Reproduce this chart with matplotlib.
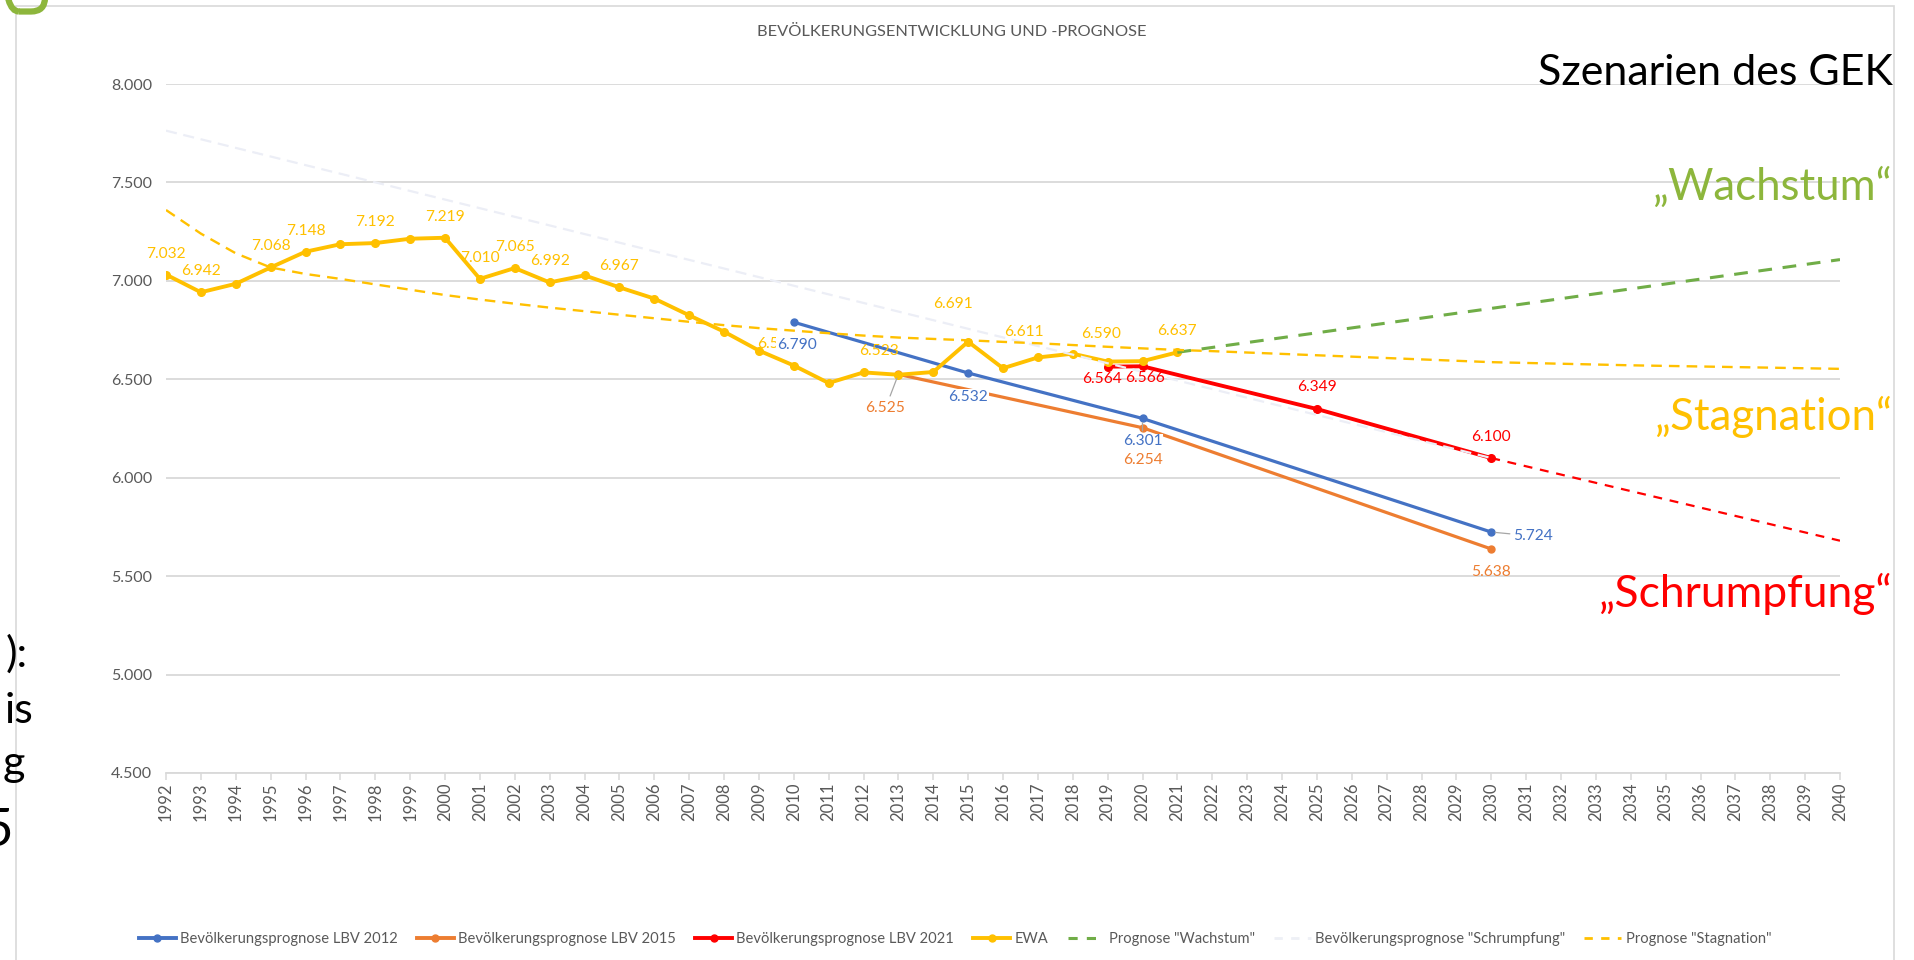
import matplotlib
matplotlib.use("Agg")
import matplotlib.pyplot as plt
from matplotlib.lines import Line2D
from matplotlib.patches import Rectangle, FancyBboxPatch
from matplotlib.transforms import IdentityTransform
from matplotlib.ticker import FuncFormatter

plt.rcParams['font.family'] = ['Lato', 'DejaVu Sans']

# Data (Einwohner)
axis_years = list(range(1992, 2041))

ewa_years = list(range(1992, 2022))
ewa_vals = [7032, 6942, 6985, 7068, 7148, 7186, 7192, 7214, 7219, 7010,
            7065, 6992, 7028, 6967, 6910, 6825, 6742, 6646, 6570, 6481,
            6535, 6523, 6537, 6691, 6556, 6611, 6630, 6590, 6592, 6637]
ewa_labeled = [1992, 1993, 1995, 1996, 1998, 2000, 2001, 2002, 2003, 2005,
               2010, 2013, 2015, 2017, 2019, 2021]

lbv12_years = [2010, 2015, 2020, 2030]
lbv12_vals = [6790, 6532, 6301, 5724]

lbv15_years = [2013, 2020, 2030]
lbv15_vals = [6525, 6254, 5638]

lbv21_years = [2019, 2020, 2025, 2030]
lbv21_vals = [6564, 6566, 6349, 6100]

wachstum_years = [2021, 2040]
wachstum_vals = [6637, 7108]

schrumpf_years = [1992, 2030, 2040]
schrumpf_vals = [7763, 6100, 5680]

stagnation_years = list(range(1992, 2041))
stagnation_vals = [7360, 7240, 7140, 7068, 7035, 7010, 6982, 6955, 6928, 6905,
                   6884, 6864, 6846, 6828, 6810, 6792, 6775, 6760, 6747, 6734,
                   6722, 6712, 6705, 6698, 6690, 6683, 6674, 6665, 6657, 6649,
                   6643, 6636, 6629, 6622, 6615, 6608, 6601, 6594, 6587, 6583,
                   6579, 6575, 6571, 6568, 6565, 6562, 6559, 6556, 6553]

legend_labels = ['Bevölkerungsprognose LBV 2012', 'Bevölkerungsprognose LBV 2015',
                 'Bevölkerungsprognose LBV 2021', 'EWA', 'Prognose "Wachstum"',
                 'Bevölkerungsprognose "Schrumpfung"', 'Prognose "Stagnation"']

# Colors
BLUE = '#4472C4'
ORANGE = '#ED7D31'
RED = '#FF0000'
GOLD = '#FFC000'
GREEN = '#70AD47'
FAINT = '#ECEEF6'
GREY = '#595959'
GRID = '#D9D9D9'

W, H = 1914, 960


def fx(x):
    return x / W


def fy(y):
    return 1 - y / H


def fmt(v):
    return f"{v:,}".replace(',', '.')


fig = plt.figure(figsize=(W / 100, H / 100), dpi=100)
ax = fig.add_axes([fx(166), fy(773), fx(1840) - fx(166), fy(84) - fy(773)])

# Series (Excel order -> z order)
ax.plot(lbv12_years, lbv12_vals, color=BLUE, lw=2.3, marker='o', ms=5, zorder=3)
ax.plot(lbv15_years, lbv15_vals, color=ORANGE, lw=2.3, marker='o', ms=5, zorder=3)
ax.plot(lbv21_years, lbv21_vals, color=RED, lw=2.8, marker='o', ms=5.5, zorder=4)
ax.plot(ewa_years, ewa_vals, color=GOLD, lw=2.8, marker='o', ms=5.5, zorder=5)
ax.plot(wachstum_years, wachstum_vals, color=GREEN, lw=2.2, dashes=(4.5, 3.5), zorder=6)
ax.plot(schrumpf_years[:2], schrumpf_vals[:2], color=FAINT, lw=1.6, dashes=(5, 3), zorder=7)
ax.plot(schrumpf_years[1:], schrumpf_vals[1:], color=RED, lw=1.6, dashes=(4, 3.5), zorder=7)
ax.plot(stagnation_years, stagnation_vals, color=GOLD, lw=1.7, dashes=(4.5, 3), zorder=8)


def label(x, y, color, dx, dy, box=False, leader=False):
    # dx, dy in pixels (dy > 0 means above the point)
    kw = {}
    if box:
        kw['bbox'] = dict(boxstyle='square,pad=0.05', fc='white', ec='none')
    if leader:
        kw['arrowprops'] = dict(arrowstyle='-', color='#A6A6A6', lw=0.9,
                                shrinkA=2, shrinkB=3)
    ax.annotate(fmt(y), (x, y), xytext=(dx * 0.72, dy * 0.72),
                textcoords='offset points', ha='center', va='center',
                color=color, fontsize=11.2, zorder=10, **kw)


ewa_offsets = {2010: (-17, 22), 2013: (-19, 24), 2015: (-15, 38),
               2017: (-14, 25), 2019: (-7, 28)}
for yr, v in zip(ewa_years, ewa_vals):
    if yr in ewa_labeled:
        dx, dy = ewa_offsets.get(yr, (0, 21))
        label(yr, v, GOLD, dx, dy)

lbv12_offsets = {2010: (3, -23, False), 2015: (0, -24, False),
                 2020: (0, -23, True), 2030: (42, -4, True)}
for yr, v in zip(lbv12_years, lbv12_vals):
    dx, dy, ld = lbv12_offsets[yr]
    label(yr, v, BLUE, dx, dy, box=True, leader=ld)

lbv15_offsets = {2013: (-13, -34, True), 2020: (0, -32, False), 2030: (0, -23, False)}
for yr, v in zip(lbv15_years, lbv15_vals):
    dx, dy, ld = lbv15_offsets[yr]
    label(yr, v, ORANGE, dx, dy, leader=ld)

lbv21_offsets = {2019: (-6, -12), 2020: (3, -12), 2025: (0, 22), 2030: (0, 21)}
for yr, v in zip(lbv21_years, lbv21_vals):
    dx, dy = lbv21_offsets[yr]
    label(yr, v, RED, dx, dy)

# Axes styling
ax.set_xlim(axis_years[0], axis_years[-1])
ax.set_ylim(4500, 8000)
ax.set_yticks(range(4500, 8001, 500))
ax.yaxis.set_major_formatter(FuncFormatter(lambda v, p: fmt(int(v))))
ax.set_xticks(axis_years)
ax.set_xticklabels([str(y) for y in axis_years], rotation=90)
ax.grid(axis='y', color=GRID, lw=1.3, zorder=0)
ax.set_axisbelow(True)
for s in ['top', 'right', 'left']:
    ax.spines[s].set_visible(False)
ax.spines['bottom'].set_color(GRID)
ax.spines['bottom'].set_linewidth(1.3)
ax.tick_params(axis='y', length=0, pad=10, labelsize=11.5, labelcolor=GREY)
ax.tick_params(axis='x', length=5, width=1.1, color=GRID, pad=2,
               labelsize=12, labelcolor=GREY)

# Title
fig.text(fx(952), fy(32), 'BEVÖLKERUNGSENTWICKLUNG UND -PROGNOSE',
         ha='center', va='center', fontsize=11.8, color=GREY)

# Legend
handles = [
    Line2D([], [], color=BLUE, lw=2.8, marker='o', ms=5),
    Line2D([], [], color=ORANGE, lw=2.8, marker='o', ms=5),
    Line2D([], [], color=RED, lw=2.8, marker='o', ms=5),
    Line2D([], [], color=GOLD, lw=2.8, marker='o', ms=5),
    Line2D([], [], color=GREEN, lw=2.2, dashes=(3, 3)),
    Line2D([], [], color='#EEF0F6', lw=2.0, dashes=(3, 3)),
    Line2D([], [], color=GOLD, lw=2.0, dashes=(3, 3)),
]
fig.legend(handles, legend_labels, loc='center', bbox_to_anchor=(fx(955), fy(939)),
           ncol=7, frameon=False, fontsize=10.6, handlelength=2.5,
           handletextpad=0.3, columnspacing=1.3, labelcolor=GREY)

# Slide overlay: scenario labels
fig.text(fx(1893), fy(85), 'Szenarien des GEK', ha='right', va='baseline',
         fontsize=31, color='black')
fig.text(fx(1893), fy(200), '\u201eWachstum\u201c', ha='right', va='baseline',
         fontsize=31.5, color='#8DB63C')
fig.text(fx(1893), fy(430), '\u201eStagnation\u201c', ha='right', va='baseline',
         fontsize=31.5, color=GOLD)
fig.text(fx(1893), fy(607), '\u201eSchrumpfung\u201c', ha='right', va='baseline',
         fontsize=32, color=RED)

# Cut-off slide text at the left edge
for txt, xr, yb, fs in [('):', 28, 667, 31), ('is', 33, 723, 31),
                        ('g', 25, 776, 31), ('5', 13, 846, 38)]:
    fig.text(fx(xr), fy(yb), txt, ha='right', va='baseline', fontsize=fs, color='black')

# Chart frame and green corner of the slide
fig.add_artist(Rectangle((fx(15.5), -0.1), fx(1894) - fx(15.5), fy(6) + 0.1,
                         transform=fig.transFigure, fill=False, ec=GRID, lw=1.2))
fig.add_artist(FancyBboxPatch((5, H - 11.5), 40, 60,
                              boxstyle='round,pad=0,rounding_size=14',
                              transform=IdentityTransform(), fill=False,
                              ec='#8DB63C', lw=4.5))

fig.savefig('out.png', dpi=100)
